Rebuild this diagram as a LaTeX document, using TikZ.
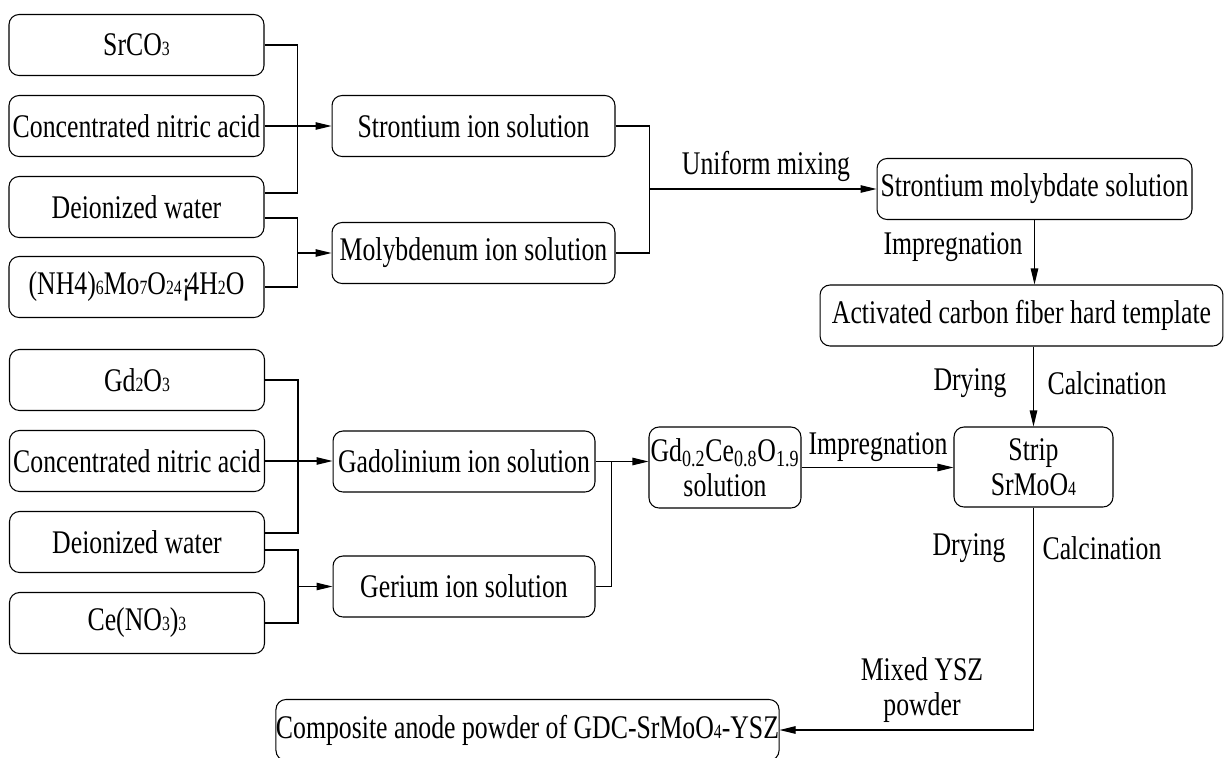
\documentclass[tikz,border=0pt]{standalone}
\usepackage{fontspec}
\setmainfont[FakeStretch=0.78]{Liberation Serif}
\usetikzlibrary{arrows.meta, positioning, calc}
\newcommand{\chsub}[1]{{\fontsize{11.5}{11.5}\selectfont #1}}
\tikzset{
  box/.style={rectangle, draw, rounded corners=0.2cm, align=center,
    inner sep=0pt, minimum height=1.22cm, line width=0.6pt},
  srcbox/.style={box, minimum width=5.1cm},
  ionbox/.style={box, minimum width=5.66cm},
  arrow/.style={-{Triangle[length=0.32cm, width=0.15cm]}, line width=0.6pt},
  line/.style={line width=0.6pt},
  lbl/.style={inner sep=0pt, align=center}
}

\begin{document}
\begin{tikzpicture}[x=0.02cm, y=-0.02cm, every node/.style={font=\fontsize{18.8}{20}\selectfont}]
  \useasboundingbox (0,0) rectangle (1225,758);

  % Strontium molybdate branch
  \node[srcbox] (srco) at (136.5,45) {SrCO\chsub{3}};
  \node[srcbox] (acid1) at (136.5,126) {Concentrated nitric acid};
  \node[srcbox] (water1) at (136.5,207) {Deionized water};
  \node[srcbox] (ammo) at (136.5,287) {(NH4)\chsub{6}Mo\chsub{7}O\chsub{24}¡\kern-0.12em 4H\chsub{2}O};
  \node[ionbox] (srion) at (473.5,126) {Strontium ion solution};
  \node[ionbox] (moion) at (473.5,253) {Molybdenum ion solution};
  \node[box, minimum width=6.3cm] (srmo) at (1034.5,189) {Strontium molybdate solution};
  \node[box, minimum width=8.06cm] (acf) at (1021.5,315.5) {Activated carbon fiber hard template};
  \node[box, minimum width=3.18cm, minimum height=1.6cm] (strip) at (1033.5,467) {Strip\\SrMoO\chsub{4}};

  % GDC branch
  \node[srcbox] (gdo) at (137,380) {Gd\chsub{2}O\chsub{3}};
  \node[srcbox] (acid2) at (137,461) {Concentrated nitric acid};
  \node[srcbox] (water2) at (137,542) {Deionized water};
  \node[srcbox] (ceno) at (137,623) {Ce(NO\chsub{3})\chsub{3}};
  \node[box, minimum width=5.24cm] (gdion) at (464,461.5) {Gadolinium ion solution};
  \node[box, minimum width=5.24cm] (ceion) at (464,586.5) {Gerium ion solution};
  \node[box, minimum width=3.04cm, minimum height=1.62cm] (gdc) at (725,467.5) {Gd\textsubscript{0.2}Ce\textsubscript{0.8}O\textsubscript{1.9}\\solution};
  \node[box, minimum width=9.98cm] (comp) at (527.5,730) {Composite anode powder of GDC-SrMoO\chsub{4}-YSZ};

  % Labels
  \node[lbl] (mixlbl) at (766,166) {Uniform mixing};
  \node[lbl] (implbl1) at (953,247) {Impregnation};
  \node[lbl] (drylbl1) at (970,383) {Drying};
  \node[lbl] (callbl1) at (1107,383) {Calcination};
  \node[lbl] (implbl2) at (878,447) {Impregnation};
  \node[lbl] (drylbl2) at (969,548) {Drying};
  \node[lbl] (callbl2) at (1102,548) {Calcination};
  \node[lbl] (yszlbl) at (922,690) {Mixed YSZ\\powder};

  % Strontium connections
  \draw[line] (srco.east) -- ++(33,0) coordinate (srjoin) |- ($(water1.east)+(0,-14)$);
  \draw[arrow] (acid1.east) -- (acid1.east -| srion.west);
  \draw[line] ($(water1.east)+(0,11)$) -- ++(33,0) |- (ammo.east);
  \draw[arrow] (srjoin |- moion.west) -- (moion.west);
  \draw[line] (srion.east) -- ++(34,0) coordinate (mixjoin) |- (moion.east);
  \draw[arrow] (mixjoin |- srmo.west) -- (srmo.west);
  \draw[arrow] (srmo.south) -- (srmo.south |- acf.north);
  \draw[arrow] (strip.north |- acf.south) -- (strip.north);

  % GDC connections
  \draw[line] (gdo.east) -- ++(33,0) coordinate (gdjoin) |- ($(water2.east)+(0,-9)$);
  \draw[arrow] (acid2.east) -- (acid2.east -| gdion.west);
  \draw[line] ($(water2.east)+(0,8)$) -- ++(33,0) |- (ceno.east);
  \draw[arrow] (gdjoin |- ceion.west) -- (ceion.west);
  \draw[arrow] (gdion.east) -- (gdion.east -| gdc.west);
  \draw[line] (ceion.east) -- ++(16,0) -- ($(gdion.east)+(16,0)$);
  \draw[arrow] (gdc.east) -- (gdc.east -| strip.west);
  \draw[arrow] (strip.south) |- (comp.east);
\end{tikzpicture}
\end{document}
